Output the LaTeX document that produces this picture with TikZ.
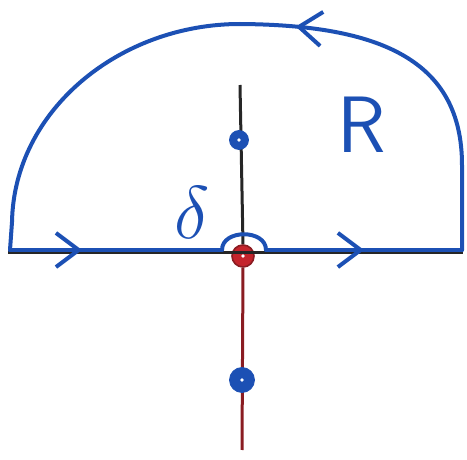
\documentclass[tikz,border=0pt]{standalone}
\usepackage{xcolor}
\usepackage{tikz}
\usetikzlibrary{arrows.meta,decorations.markings}

\definecolor{penblue}{HTML}{1C50B4}
\definecolor{pendark}{HTML}{8A1C22}
\definecolor{penred}{HTML}{C4242C}

\begin{document}
\begin{tikzpicture}[x=0.5pt,y=-0.5pt,
  contour/.style={draw=penblue,line width=2pt,line cap=round,line join=round},
  axis/.style={draw=#1,line width=1.5pt},
  midarrow/.style={postaction={decorate,decoration={markings,
      mark=at position #1 with {\arrow{Straight Barb[length=4mm,width=6mm,line width=2pt]}}}}},
  pole/.style={circle,fill=penblue,draw=penblue,inner sep=0pt,minimum size=#1,
      path picture={\fill[white] (path picture bounding box.center) circle (0.9pt);}},
  lbl/.style={text=penblue,inner sep=0pt}]
\useasboundingbox (0,0) rectangle (467,460);
% axes
\coordinate (xl) at (8,253);
\coordinate (xr) at (463,253);
\coordinate (yt) at (240,85);
\coordinate (yb) at (242,450);
\node[circle,fill=penred,draw=pendark,line width=0.8pt,inner sep=0pt,minimum size=11pt,
      path picture={\fill[white] (path picture bounding box.center) circle (0.9pt);}] (origin) at (243,256) {};
\draw[axis=black!85] (xl) -- (xr);
\draw[axis=black!85] (yt) -- (origin.north);
\draw[axis=pendark] (origin.south) -- (yb);
% poles
\node[pole=9.5pt] (poleup) at (239,140) {};
\node[pole=12.5pt] (poledown) at (242,380) {};
% contour
\coordinate (cl) at (10,250);
\coordinate (ia) at (222,250);
\coordinate (ib) at (266,250);
\coordinate (cr) at (462,250);
\draw[contour,midarrow=0.34] (cl) -- (ia);
\draw[contour] (ia) .. controls (222,229) and (266,229) .. (ib);
\draw[contour,midarrow=0.5] (ib) -- (cr);
\draw[contour,midarrow=0.44] (cr) -- (462,165) .. controls (462,60) and (380,25) .. (240,24)
  .. controls (120,24) and (14,110) .. (12,222) -- (cl);
% labels
\node[lbl,font=\fontsize{24}{24}\selectfont,scale=1.5] (delta) at (192,213) {$\delta$};
\node[lbl,font=\sffamily\fontsize{40}{40}\selectfont] (radius) at (362,125) {R};
\end{tikzpicture}
\end{document}
